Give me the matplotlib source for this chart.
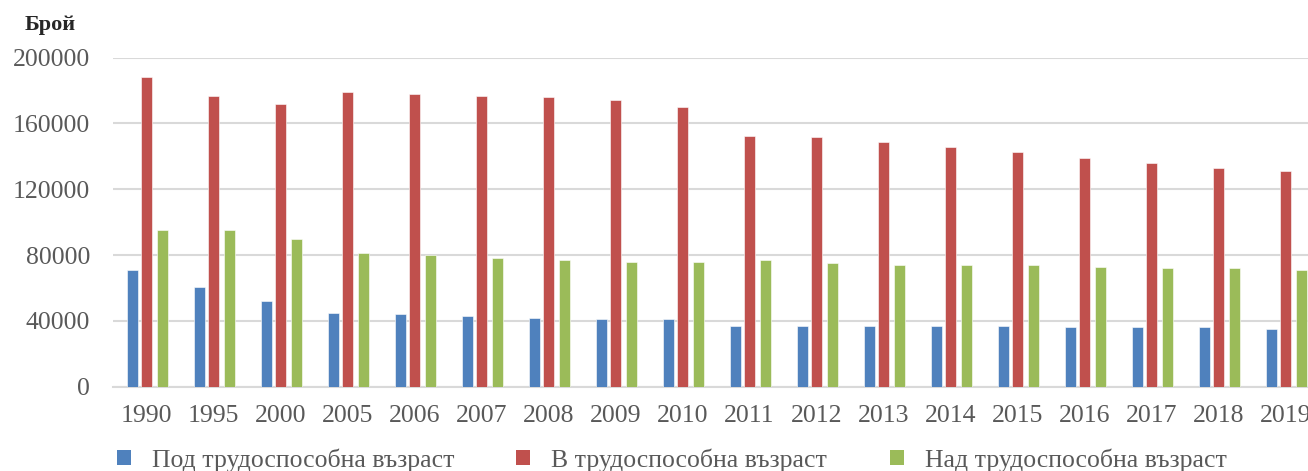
import matplotlib
matplotlib.use("Agg")
import matplotlib.pyplot as plt
import numpy as np
from matplotlib.patches import Patch

years = ["1990", "1995", "2000", "2005", "2006", "2007", "2008", "2009", "2010",
         "2011", "2012", "2013", "2014", "2015", "2016", "2017", "2018", "2019"]
under_working = [71000, 60500, 52000, 45000, 44000, 43000, 42000, 41000, 41000,
                 37000, 37000, 37000, 37000, 37000, 36000, 36000, 36000, 35000]
working = [188000, 177000, 172000, 179000, 178000, 177000, 176000, 174000, 170000,
           152500, 151500, 148500, 145500, 142500, 139000, 136000, 133000, 131000]
over_working = [95000, 95000, 90000, 81000, 80000, 78000, 77000, 76000, 76000,
                77000, 75000, 74000, 74000, 74000, 73000, 72000, 72000, 71000]
series_names = ["Под трудоспособна възраст", "В трудоспособна възраст", "Над трудоспособна възраст"]
y_label = "Брой"
y_ticks = [0, 40000, 80000, 120000, 160000, 200000]

colors = ["#4F81BD", "#C0504D", "#9BBB59"]
text_color = "#595959"
plt.rcParams['font.family'] = ['Liberation Serif', 'DejaVu Serif']

W, H = 1308, 471
fig = plt.figure(figsize=(W / 100, H / 100), dpi=100)
ax_left, ax_right, ax_bottom, ax_top = 113, 1319, 386.7, 57.7
ax = fig.add_axes([ax_left / W, 1 - ax_bottom / H, (ax_right - ax_left) / W, (ax_bottom - ax_top) / H])

x = np.arange(len(years))
offsets = [-0.21, 0.0, 0.24]
width = 0.175
for vals, off, c, name in zip([under_working, working, over_working], offsets, colors, series_names):
    ax.bar(x + off, vals, width=width, color=c, edgecolor="white", linewidth=0.4, label=name, zorder=3)

ax.set_xlim(-0.5, len(years) - 0.5)
ax.set_ylim(0, 200000)
ax.set_yticks(y_ticks)
ax.set_yticklabels([str(v) for v in y_ticks])
ax.set_xticks(x)
ax.set_xticklabels(years)
ax.grid(axis="y", color="#D9D9D9", linewidth=1.5, zorder=0)
for s in ["top", "right", "left"]:
    ax.spines[s].set_visible(False)
ax.spines["bottom"].set_color("#D9D9D9")
ax.spines["bottom"].set_linewidth(1.5)
ax.tick_params(axis="both", length=0, labelsize=18.5, labelcolor=text_color)
ax.tick_params(axis="y", pad=16.5)
ax.tick_params(axis="x", pad=13)

fig.text(25 / W, 1 - 25 / H, y_label, fontsize=16, fontweight="bold", color="#262626",
         ha="left", va="center")

square_x = [117, 516, 890]
for c, name, sx in zip(colors, series_names, square_x):
    leg = fig.legend([Patch(facecolor=c, edgecolor="none")], [name], loc="center left",
                     bbox_to_anchor=(sx / W, 1 - 460 / H), frameon=False, fontsize=18.5,
                     labelcolor=text_color, handlelength=0.55, handleheight=0.55,
                     handletextpad=0.8, borderpad=0, borderaxespad=0)

fig.savefig("out.png", dpi=100)
